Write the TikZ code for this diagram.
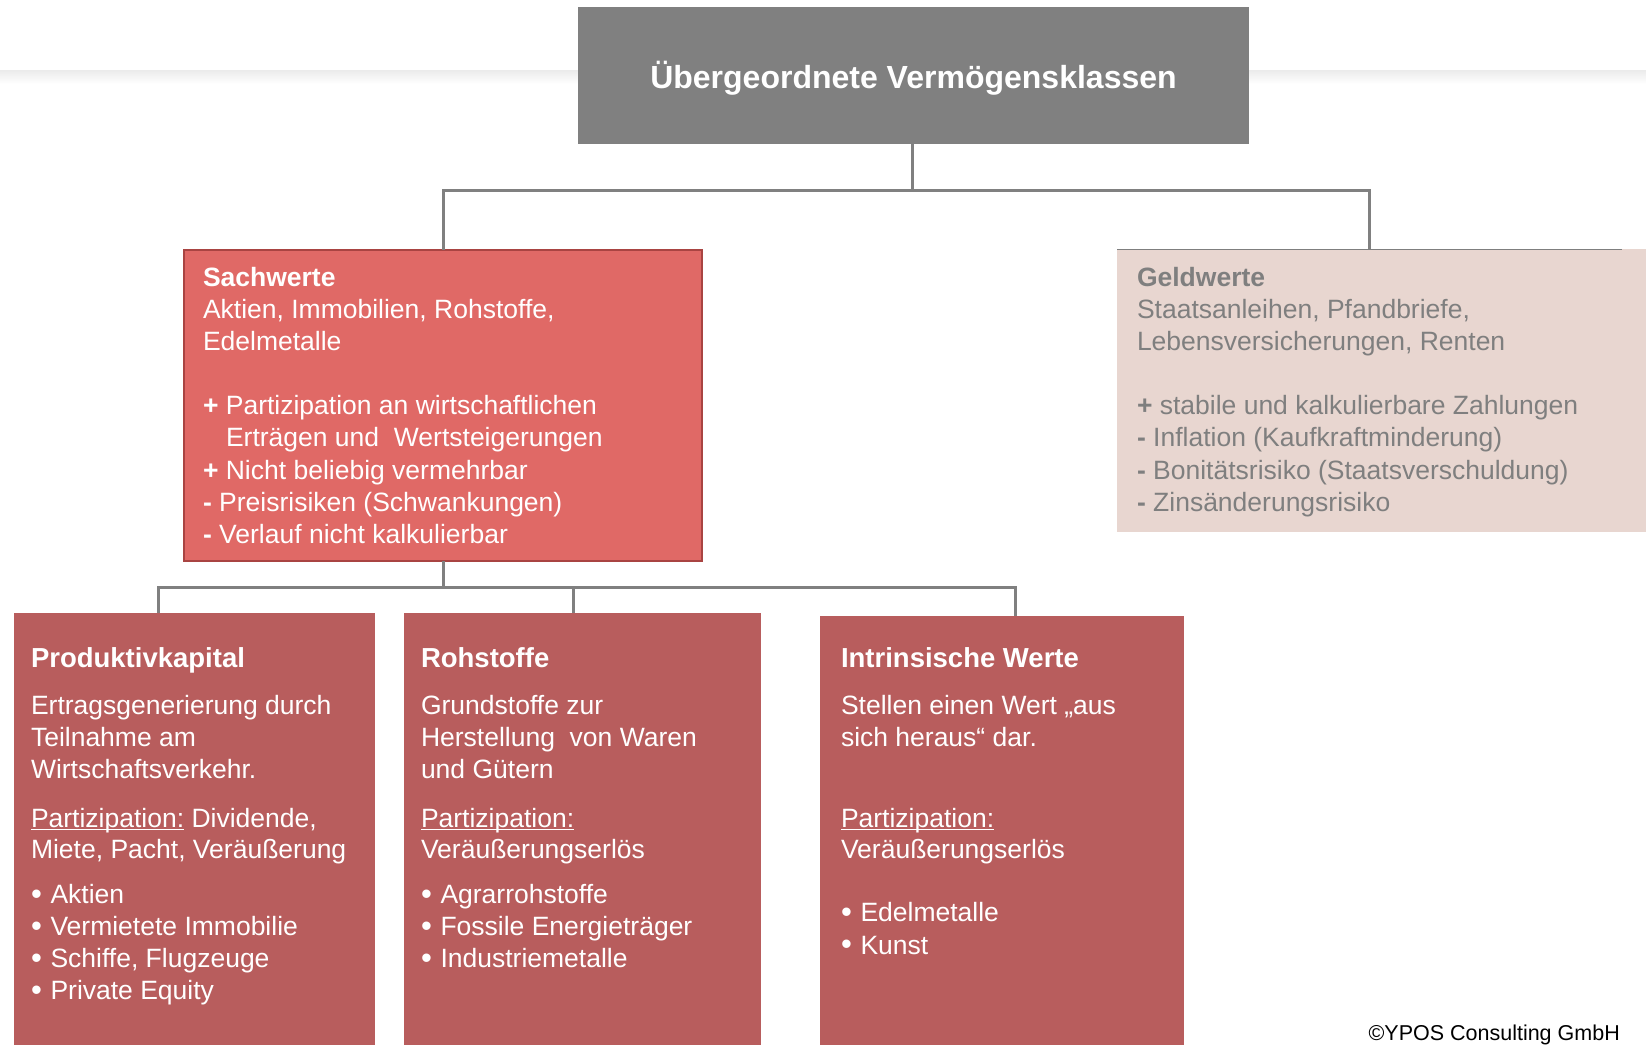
\documentclass[tikz,border=0pt]{standalone}
\usepackage{fontspec}
\setmainfont{Liberation Sans}
\definecolor{gtitle}{HTML}{808080}
\definecolor{sachfill}{HTML}{E06966}
\definecolor{sachline}{HTML}{A94442}
\definecolor{geldfill}{HTML}{E8D6D0}
\definecolor{geldtext}{HTML}{7F7F7F}
\definecolor{subfill}{HTML}{B85D5D}
\definecolor{connc}{HTML}{808080}
\definecolor{bandc}{HTML}{EBEBEB}
\newsavebox{\ulbox}
\newcommand\myul[1]{\sbox{\ulbox}{#1}\rlap{\rule[-3pt]{\wd\ulbox}{1.4pt}}\usebox{\ulbox}}
\newcommand\pl{\textbf{+}\ }
\newcommand\mi{\textbf{-}\ }
\newcommand\bu{\makebox[19.5pt][l]{\raisebox{-0.5pt}{\fontsize{31}{32}\selectfont\textbullet}}}
\tikzset{
  boxnode/.style={rectangle, inner sep=0pt, outer sep=0pt, anchor=north west},
  txt/.style={anchor=base west, inner sep=0pt, outer sep=0pt, font=\fontsize{26.5}{32}\selectfont},
  wtxt/.style={txt, text=white},
  gtxt/.style={txt, text=geldtext},
  conn/.style={draw=connc, line width=3pt}
}
\begin{document}
\begin{tikzpicture}[x=1pt,y=-1pt]
\useasboundingbox (0,0) rectangle (1646,1045);
\fill[white] (0,0) rectangle (1646,1045);
\shade[top color=bandc, bottom color=white] (0,70) rectangle (1646,84);

% top box
\node[boxnode, fill=gtitle, minimum width=671pt, minimum height=137pt] (top) at (578,7) {};
\node[inner sep=0pt, text=white, font=\bfseries\fontsize{32}{38}\selectfont] (toptxt) at (913.5,78) {Übergeordnete Vermögensklassen};

% Sachwerte
\node[boxnode, fill=sachfill, draw=sachline, line width=2pt, minimum width=518pt, minimum height=311pt] (sach) at (184,250) {};
\node[wtxt, font=\bfseries\fontsize{26.5}{32}\selectfont] (s0) at (203,286) {Sachwerte};
\node[wtxt] (s1) at (203,318.2) {Aktien, Immobilien, Rohstoffe,};
\node[wtxt] (s2) at (203,350.4) {Edelmetalle};
\node[wtxt] (s4) at (203,414.8) {\pl Partizipation an wirtschaftlichen};
\node[wtxt] (s5) at (226,446) {Erträgen und\ \ Wertsteigerungen};
\node[wtxt] (s6) at (203,479.2) {\pl Nicht beliebig vermehrbar};
\node[wtxt] (s7) at (203,511.4) {\mi Preisrisiken (Schwankungen)};
\node[wtxt] (s8) at (203,543.6) {\mi Verlauf nicht kalkulierbar};

% Geldwerte
\node[boxnode, fill=geldfill, minimum width=529pt, minimum height=283pt] (geld) at (1117,249) {};
\draw[draw=geldtext, line width=1pt] (geld.north west) -- ++(505,0) coordinate (gedge);
\node[gtxt, font=\bfseries\fontsize{26.5}{32}\selectfont] (g0) at (1137,286) {Geldwerte};
\node[gtxt] (g1) at (1137,318.2) {Staatsanleihen, Pfandbriefe,};
\node[gtxt] (g2) at (1137,350.4) {Lebensversicherungen, Renten};
\node[gtxt] (g4) at (1137,414.8) {\pl stabile und kalkulierbare Zahlungen};
\node[gtxt] (g5) at (1137,446) {\mi Inflation (Kaufkraftminderung)};
\node[gtxt] (g6) at (1137,479.2) {\mi Bonitätsrisiko (Staatsverschuldung)};
\node[gtxt] (g7) at (1137,511.4) {\mi Zinsänderungsrisiko};

% lower boxes
\node[boxnode, fill=subfill, minimum width=361pt, minimum height=432pt] (prod) at (14,613) {};
\node[boxnode, fill=subfill, minimum width=357pt, minimum height=432pt] (roh) at (404,613) {};
\node[boxnode, fill=subfill, minimum width=364pt, minimum height=429pt] (intr) at (820,616) {};

% Produktivkapital
\node[wtxt, font=\bfseries\fontsize{27.5}{32}\selectfont] (p0) at (31,667) {Produktivkapital};
\node[wtxt] (p1) at (31,714.5) {Ertragsgenerierung durch};
\node[wtxt] (p2) at (31,746.7) {Teilnahme am};
\node[wtxt] (p3) at (31,778.5) {Wirtschaftsverkehr.};
\node[wtxt] (p4) at (31,827) {\myul{Partizipation:} Dividende,};
\node[wtxt] (p5) at (31,858.5) {Miete, Pacht, Veräußerung};
\node[wtxt] (p6) at (31,903.5) {\bu Aktien};
\node[wtxt] (p7) at (31,935.7) {\bu Vermietete Immobilie};
\node[wtxt] (p8) at (31,967.5) {\bu Schiffe, Flugzeuge};
\node[wtxt] (p9) at (31,999.5) {\bu Private Equity};

% Rohstoffe
\node[wtxt, font=\bfseries\fontsize{27.5}{32}\selectfont] (r0) at (421,667) {Rohstoffe};
\node[wtxt] (r1) at (421,714.5) {Grundstoffe zur};
\node[wtxt] (r2) at (421,746.7) {Herstellung\ \ von Waren};
\node[wtxt] (r3) at (421,778.5) {und Gütern};
\node[wtxt] (r4) at (421,827) {\myul{Partizipation:}};
\node[wtxt] (r5) at (421,858.5) {Veräußerungserlös};
\node[wtxt] (r6) at (421,903.5) {\bu Agrarrohstoffe};
\node[wtxt] (r7) at (421,935.7) {\bu Fossile Energieträger};
\node[wtxt] (r8) at (421,967.5) {\bu Industriemetalle};

% Intrinsische Werte
\node[wtxt, font=\bfseries\fontsize{27.5}{32}\selectfont] (i0) at (841,667) {Intrinsische Werte};
\node[wtxt] (i1) at (841,714.5) {Stellen einen Wert „aus};
\node[wtxt] (i2) at (841,746.7) {sich heraus“ dar.};
\node[wtxt] (i4) at (841,827) {\myul{Partizipation:}};
\node[wtxt] (i5) at (841,858.5) {Veräußerungserlös};
\node[wtxt] (i6) at (841,921.7) {\bu Edelmetalle};
\node[wtxt] (i7) at (841,954) {\bu Kunst};

% copyright
\node[anchor=base east, inner sep=0pt, font=\fontsize{21.5}{26}\selectfont] (copy) at (1620,1040) {©YPOS Consulting GmbH};

% connectors level 1
\coordinate (j1) at (912,190);
\coordinate (gtop) at (1369,249);
\draw[conn] (top.south -| j1) -- (j1);
\draw[conn] (sach.north) |- (j1) -| (gtop);

% connectors level 2
\coordinate (j2) at (443,587);
\coordinate (ptop) at (158,613);
\coordinate (rtop) at (573,613);
\coordinate (itop) at (1015,616);
\draw[conn] (sach.south) -- (j2);
\draw[conn] (ptop) |- (j2) -| (itop);
\draw[conn] (rtop) -- (rtop |- j2);
\end{tikzpicture}
\end{document}
